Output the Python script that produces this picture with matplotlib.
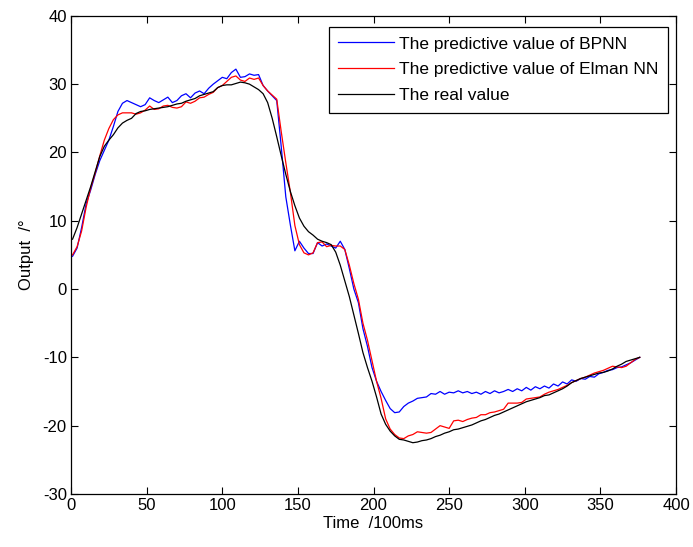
import numpy as np
import matplotlib
matplotlib.use("Agg")
import matplotlib.pyplot as plt

plt.rcParams['font.family'] = ['Liberation Sans', 'DejaVu Sans']
plt.rcParams['axes.unicode_minus'] = False

# time samples (x = 1, 4, 7, ..., 376)
time = np.arange(1, 378, 3)

real = [
    7.3, 9.0, 11.0, 13.0, 15.0, 17.2, 19.4, 20.9, 21.8, 22.6,
    23.6, 24.3, 24.7, 25.0, 25.7, 26.0, 26.1, 26.3, 26.4, 26.5,
    26.6, 26.7, 26.9, 27.1, 27.2, 27.5, 27.7, 27.9, 28.3, 28.5,
    28.7, 28.9, 29.5, 29.8, 29.9, 29.9, 30.1, 30.3, 30.2, 30.0,
    29.6, 29.2, 28.6, 27.3, 25.0, 22.3, 19.5, 16.8, 14.3, 12.2,
    10.4, 9.2, 8.4, 7.9, 7.3, 7.0, 6.8, 6.5, 5.4, 3.5,
    1.2, -1.1, -3.8, -6.5, -9.3, -11.5, -13.5, -15.8, -18.3, -19.8,
    -20.8, -21.5, -22.0, -22.1, -22.3, -22.5, -22.4, -22.2, -22.1, -21.9,
    -21.6, -21.4, -21.1, -20.9, -20.6, -20.5, -20.3, -20.1, -19.9, -19.6,
    -19.3, -19.1, -18.8, -18.5, -18.3, -18.0, -17.7, -17.4, -17.1, -16.8,
    -16.5, -16.3, -16.1, -15.9, -15.6, -15.5, -15.2, -14.9, -14.6, -14.2,
    -13.7, -13.4, -13.1, -12.9, -12.7, -12.5, -12.3, -12.2, -12.0, -11.7,
    -11.3, -11.0, -10.6, -10.4, -10.2, -10.0,
]

elman = [
    5.0, 6.2, 8.5, 12.0, 14.8, 17.0, 19.5, 21.8, 23.5, 24.8,
    25.5, 25.8, 25.8, 25.8, 25.6, 25.8, 26.2, 26.8, 26.3, 26.4,
    26.8, 26.9, 26.6, 26.5, 26.7, 27.4, 27.2, 27.5, 28.0, 28.1,
    28.5, 28.8, 29.5, 29.8, 30.4, 31.0, 31.2, 30.6, 30.4, 30.9,
    30.7, 30.9, 29.8, 29.0, 28.4, 27.8, 23.0, 18.5, 14.2, 9.3,
    6.5, 5.3, 5.0, 5.3, 6.8, 6.9, 6.2, 6.4, 6.3, 6.3,
    5.8, 3.5, 0.8, -1.5, -5.0, -7.5, -10.5, -13.5, -16.0, -19.0,
    -20.5, -21.3, -21.8, -21.9, -21.5, -21.3, -20.9, -21.0, -21.1, -21.0,
    -20.5, -20.0, -20.2, -20.4, -19.3, -19.2, -19.4, -19.1, -18.9, -18.8,
    -18.4, -18.4, -18.1, -18.0, -17.8, -17.6, -16.7, -16.7, -16.7, -16.6,
    -16.1, -16.0, -15.9, -15.8, -15.4, -15.1, -14.9, -14.7, -14.4, -14.1,
    -13.7, -13.4, -13.1, -12.9, -12.6, -12.3, -12.1, -11.9, -11.6, -11.3,
    -11.4, -11.5, -11.3, -10.8, -10.3, -10.0,
]

bpnn = [
    4.8, 6.0, 9.0, 12.5, 14.5, 16.8, 18.8, 20.3, 21.8, 23.8,
    26.0, 27.2, 27.6, 27.3, 27.0, 26.7, 27.0, 28.0, 27.6, 27.3,
    27.7, 28.1, 27.3, 27.6, 28.3, 28.6, 28.0, 28.7, 29.0, 28.6,
    29.4, 30.0, 30.5, 31.0, 30.8, 31.7, 32.2, 31.0, 31.1, 31.5,
    31.3, 31.4, 29.8, 29.0, 28.3, 27.6, 20.8, 13.5, 9.4, 5.6,
    7.0, 6.0, 5.2, 5.2, 6.8, 6.3, 6.6, 6.3, 6.0, 7.0,
    5.8, 3.0, 0.0, -2.0, -5.8, -8.4, -11.5, -13.5, -15.0, -16.3,
    -17.5, -18.1, -18.0, -17.2, -16.7, -16.4, -16.0, -15.9, -15.8, -15.3,
    -15.4, -15.0, -15.4, -15.1, -15.2, -14.9, -15.2, -15.0, -15.3, -15.1,
    -15.4, -15.0, -15.3, -14.9, -15.2, -15.0, -14.7, -15.0, -14.6, -14.9,
    -14.4, -14.8, -14.3, -14.6, -14.2, -14.5, -13.9, -14.2, -13.6, -13.9,
    -13.3, -13.5, -13.1, -13.2, -12.8, -12.9, -12.4, -12.2, -11.9, -11.8,
    -11.5, -11.4, -11.1, -10.8, -10.4, -10.0,
]

labels = ["The predictive value of BPNN",
          "The predictive value of Elman NN",
          "The real value"]
xticks = [0, 50, 100, 150, 200, 250, 300, 350, 400]
yticks = [-30, -20, -10, 0, 10, 20, 30, 40]

fig = plt.figure(figsize=(6.93, 5.47), dpi=100)
ax = fig.add_axes([0.1025, 0.097, 0.873, 0.874])

ax.plot(time, bpnn, color='#0000ff', lw=0.9, label=labels[0])
ax.plot(time, elman, color='#ff0000', lw=0.9, label=labels[1])
ax.plot(time, real, color='#000000', lw=0.9, label=labels[2])

ax.set_xlim(0, 400)
ax.set_ylim(-30, 40)
ax.set_xticks(xticks)
ax.set_yticks(yticks)
ax.tick_params(direction='in', top=True, right=True, length=5, width=0.8,
               labelsize=12, pad=3)
for s in ax.spines.values():
    s.set_linewidth(0.9)

ax.set_xlabel("Time  /100ms", fontsize=12, labelpad=2)
ax.set_ylabel("Output  /°", fontsize=12, labelpad=6)

leg = ax.legend(loc='upper right', bbox_to_anchor=(0.987, 0.977),
                borderaxespad=0, fontsize=12.5, handlelength=3.2,
                handletextpad=0.3, labelspacing=0.62, borderpad=0.55,
                fancybox=False, framealpha=1, edgecolor='black')
leg.get_frame().set_linewidth(0.9)

fig.savefig("out.png", dpi=100)
